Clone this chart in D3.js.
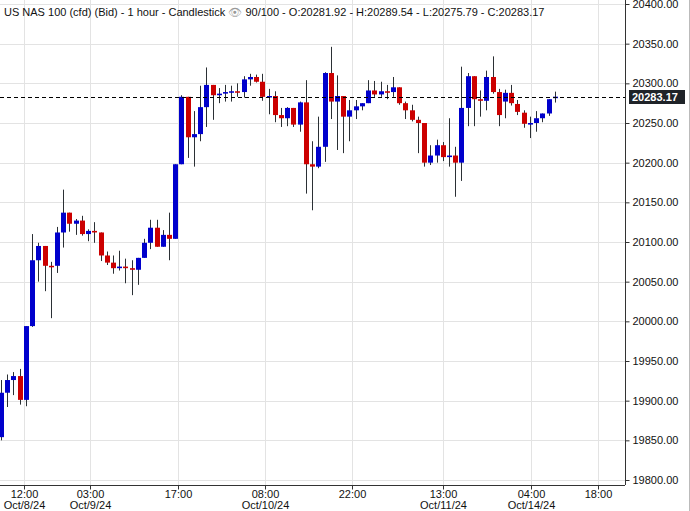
<!DOCTYPE html>
<html><head><meta charset="utf-8">
<script src="https://cdn.jsdelivr.net/npm/d3@7"></script>
<style>body{margin:0;background:#fff;font-family:"Liberation Sans",Arial,sans-serif}</style>
</head><body><div id="chart"></div>
<script>
// candles: open, high, low, close
var opens  = [19854,19910,19926,19931,19901,19994,20077,20095,20070,20070,20112,20137,20123,20127,20110,20114,20112,20083,20074,20067,20069,20067,20065,20080,20099,20118,20094,20109,20104,20198,20283,20232,20236,20270,20298,20285,20287,20289,20290,20289,20305,20308,20302,20283,20284,20260,20256,20269,20248,20276,20198,20195,20220,20313,20277,20284,20258,20266,20271,20275,20291,20286,20290,20289,20295,20275,20266,20254,20250,20200,20209,20222,20207,20209,20200,20269,20309,20280,20278,20308,20289,20277,20288,20274,20263,20248,20250,20256,20262,20281.92];
var highs  = [19926,19933,19936,19940,19994,20110,20099,20095,20075,20119,20166,20137,20129,20133,20116,20125,20112,20088,20083,20089,20079,20077,20080,20104,20128,20128,20115,20137,20198,20285,20283,20265,20297,20320,20298,20294,20298,20297,20300,20309,20312,20311,20312,20293,20290,20269,20270,20269,20277,20304,20227,20258,20314,20346,20310,20284,20279,20279,20275,20304,20303,20302,20298,20308,20295,20277,20273,20258,20250,20222,20229,20226,20256,20220,20321,20313,20309,20291,20316,20334,20293,20292,20298,20279,20266,20258,20265,20262,20280,20289.54];
var lows   = [19850,19892,19907,19895,19893,19993,20050,20038,20004,20061,20093,20113,20109,20108,20101,20099,20076,20071,20060,20064,20048,20033,20046,20080,20091,20094,20094,20077,20104,20198,20206,20195,20227,20245,20254,20275,20277,20277,20283,20282,20297,20301,20278,20261,20251,20245,20246,20245,20239,20161,20140,20193,20201,20255,20216,20212,20227,20255,20266,20275,20283,20283,20280,20283,20273,20255,20252,20212,20195,20197,20200,20202,20195,20157,20177,20246,20246,20258,20266,20287,20246,20256,20272,20260,20244,20231,20239,20251,20259,20275.79];
var closes = [19910,19926,19931,19901,19994,20077,20095,20070,20069,20112,20137,20123,20127,20110,20114,20112,20083,20074,20067,20069,20067,20065,20080,20099,20118,20094,20109,20104,20198,20283,20232,20236,20270,20298,20285,20287,20289,20290,20289,20305,20308,20302,20283,20284,20260,20256,20269,20248,20276,20198,20195,20220,20313,20277,20284,20258,20266,20271,20275,20291,20286,20290,20289,20295,20275,20266,20254,20250,20200,20209,20222,20207,20209,20200,20269,20309,20280,20278,20308,20289,20260,20288,20275,20264,20249,20250,20256,20262,20280,20283.17];
var priceTicks = [19800,19850,19900,19950,20000,20050,20100,20150,20200,20250,20300,20350,20400];
var timeTickIdx = [3.7,14.3,28.5,42.4,56.4,71.1,85.2,96];
var timeTickTop = ["12:00","03:00","17:00","08:00","22:00","13:00","04:00","18:00"];
var timeTickBot = ["Oct/8/24","Oct/9/24","","Oct/10/24","","Oct/11/24","Oct/14/24",""];
var lastPrice = 20283.17;

var W = 690, H = 511, plotR = 625, plotB = 485;
var svg = d3.select('#chart').append('svg').attr('width', W).attr('height', H);
var x = d3.scaleLinear().domain([0, 90]).range([1, 561]);
var y = d3.scaleLinear().domain([19800, 20400]).range([480, 4]);

// grid
svg.selectAll('.hg').data(priceTicks).enter().append('line')
  .attr('x1', 0).attr('x2', plotR).attr('y1', function(d){return Math.round(y(d))+0.5;}).attr('y2', function(d){return Math.round(y(d))+0.5;})
  .attr('stroke', '#e3e3e3');
svg.selectAll('.vg').data(timeTickIdx).enter().append('line')
  .attr('y1', 0).attr('y2', plotB).attr('x1', function(d){return Math.round(x(d))+0.5;}).attr('x2', function(d){return Math.round(x(d))+0.5;})
  .attr('stroke', '#e3e3e3');

// candles
var idx = d3.range(opens.length);
svg.selectAll('.wick').data(idx).enter().append('line')
  .attr('x1', function(i){return Math.round(x(i))+0.5;}).attr('x2', function(i){return Math.round(x(i))+0.5;})
  .attr('y1', function(i){return y(highs[i]);}).attr('y2', function(i){return y(lows[i]);})
  .attr('stroke', '#2b3035').attr('stroke-width', 1);
svg.selectAll('.body').data(idx).enter().append('rect')
  .attr('x', function(i){return Math.round(x(i))-2;}).attr('width', 5)
  .attr('y', function(i){return y(Math.max(opens[i], closes[i]));})
  .attr('height', function(i){return Math.max(1.5, Math.abs(y(opens[i]) - y(closes[i])));})
  .attr('fill', function(i){return closes[i] >= opens[i] ? '#0000cc' : '#cc0000';});

// last price line
svg.append('line').attr('x1', 0).attr('x2', plotR).attr('y1', Math.round(y(lastPrice))+0.5).attr('y2', Math.round(y(lastPrice))+0.5)
  .attr('stroke', '#000').attr('stroke-dasharray', '4,3');

// axes frame
svg.append('line').attr('x1', plotR+0.5).attr('x2', plotR+0.5).attr('y1', 0).attr('y2', plotB).attr('stroke', '#333');
svg.append('line').attr('x1', 0).attr('x2', plotR).attr('y1', plotB+0.5).attr('y2', plotB+0.5).attr('stroke', '#333');
svg.append('rect').attr('x', 689).attr('y', 0).attr('width', 1).attr('height', H).attr('fill', '#bbb');

var ya = svg.append('g').attr('transform', 'translate(' + (plotR + 0.5) + ',0)')
  .call(d3.axisRight(y).tickValues(priceTicks).tickSize(4).tickPadding(3).tickFormat(d3.format('.2f')));
ya.select('.domain').remove();
ya.selectAll('text').attr('font-size', 11).attr('fill', '#111').attr('font-family', '"Liberation Sans",Arial');
ya.selectAll('line').attr('stroke', '#333');

var xa = svg.append('g').attr('transform', 'translate(0,' + (plotB + 0.5) + ')');
timeTickIdx.forEach(function(t, k){
  var px = Math.round(x(t)) + 0.5;
  xa.append('line').attr('x1', px).attr('x2', px).attr('y1', 0).attr('y2', 4).attr('stroke', '#333');
  xa.append('text').attr('x', px).attr('y', 12).attr('text-anchor', 'middle').attr('font-size', 11).attr('fill', '#111').text(timeTickTop[k]);
  xa.append('text').attr('x', px).attr('y', 23).attr('text-anchor', 'middle').attr('font-size', 11).attr('fill', '#111').text(timeTickBot[k]);
});

// last price tag
var ly = Math.round(y(lastPrice));
svg.append('rect').attr('x', plotR + 4).attr('y', ly - 7).attr('width', 56).attr('height', 14).attr('fill', '#1f2328');
svg.append('text').attr('x', plotR + 7).attr('y', ly + 4).attr('font-size', 11).attr('font-weight', 'bold').attr('fill', '#fff').text(d3.format('.2f')(lastPrice));

// title
var title = svg.append('text').attr('x', 4).attr('y', 16).attr('font-size', 11).attr('fill', '#111');
title.append('tspan').text('US NAS 100 (cfd) (Bid) - 1 hour - Candlestick ');
title.append('tspan').attr('fill', '#999').text('\u{1F441}');
title.append('tspan').text(' 90/100 - O:20281.92 - H:20289.54 - L:20275.79 - C:20283.17');
</script></body></html>
